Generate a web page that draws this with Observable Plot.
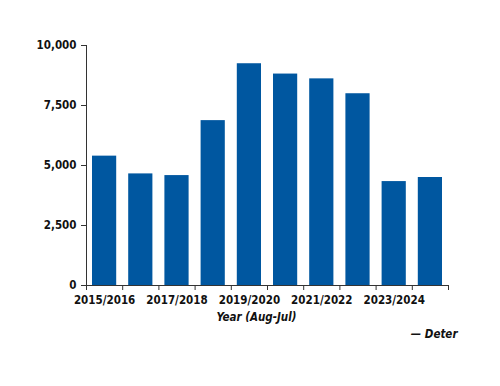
<!DOCTYPE html>
<html>
<head>
<meta charset="utf-8">
<script src="https://cdn.jsdelivr.net/npm/d3@7"></script>
<script src="https://cdn.jsdelivr.net/npm/@observablehq/plot@0.6"></script>
<style>
  html, body { margin: 0; padding: 0; background: #fff; }
  svg text { font-stretch: condensed; }
</style>
</head>
<body>
<div id="chart"></div>
<script>
const categories = ["2015/2016","2016/2017","2017/2018","2018/2019","2019/2020","2020/2021","2021/2022","2022/2023","2023/2024","2024/2025"];
const values = [5390, 4650, 4580, 6870, 9240, 8810, 8610, 7990, 4330, 4500];
const yTicks = [0, 2500, 5000, 7500, 10000];
const xTitle = "Year (Aug-Jul)";
const legendLabel = "— Deter";

const data = categories.map((c, i) => ({category: c, value: values[i], i}));
const boundaries = d3.range(0, categories.length + 1);
const labelPositions = categories.map((c, i) => i).filter(i => i % 2 === 0).map(i => i + 0.5);
const fmt = d3.format(",");

const chart = Plot.plot({
  width: 500,
  height: 386,
  marginLeft: 86,
  marginRight: 52,
  marginTop: 45,
  marginBottom: 101,
  x: {type: "linear", domain: [0, categories.length]},
  y: {domain: [0, 10000]},
  style: {fontFamily: "'DejaVu Sans Condensed', 'DejaVu Sans', sans-serif", fontSize: "11.5px", fontWeight: "bold", color: "#111", background: "#fff"},
  marks: [
    Plot.rectY(data, {x1: "i", x2: d => d.i + 1, y: "value", fill: "#0057a0", insetLeft: 6, insetRight: 6}),
    Plot.ruleY([0], {stroke: "#333"}),
    Plot.ruleX([0], {stroke: "#333"}),
    Plot.axisY({ticks: yTicks, tickFormat: fmt, tickSize: 5, tickPadding: 5, label: null, stroke: "#333"}),
    Plot.axisX({ticks: boundaries, tickFormat: () => "", tickSize: 5, label: null, stroke: "#333"}),
    Plot.axisX({ticks: labelPositions, tickFormat: d => categories[Math.round(d - 0.5)], tickSize: 0, tickPadding: 10, label: null}),
    Plot.text([xTitle], {frameAnchor: "bottom", lineAnchor: "middle", dy: 32, dx: -11, fontStyle: "italic", fontWeight: "bold", fontSize: 11.5}),
    Plot.text([legendLabel], {frameAnchor: "bottom-right", textAnchor: "end", lineAnchor: "middle", dy: 49, dx: 9, fontStyle: "italic", fontWeight: "bold", fontSize: 11.5})
  ]
});
document.getElementById("chart").appendChild(chart);
</script>
</body>
</html>
